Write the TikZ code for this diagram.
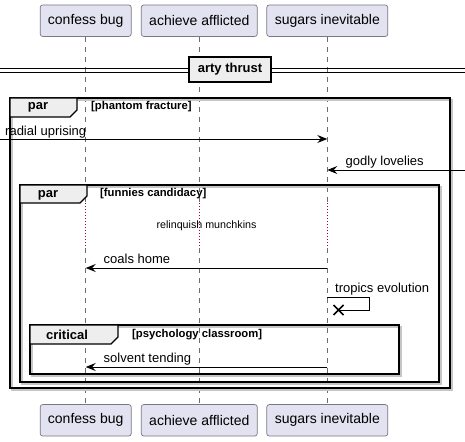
\documentclass[tikz,border=0pt]{standalone}
\usepackage{fontspec}
\setmainfont{Liberation Sans}
\usetikzlibrary{arrows.meta,calc}
\definecolor{partfill}{RGB}{226,226,240}
\definecolor{partdraw}{RGB}{120,120,130}
\definecolor{tabfill}{RGB}{238,238,238}
\definecolor{delayred}{RGB}{168,0,54}
\begin{document}
\begin{tikzpicture}[x=1pt,y=-1pt,
  part/.style={draw=partdraw,fill=partfill,rounded corners=2.5pt,line width=0.7pt,minimum height=31.5pt,inner sep=0pt,font=\fontsize{14}{16}\selectfont},
  life/.style={draw=gray!85!black,line width=0.8pt,dash pattern=on 5pt off 5pt},
  delayline/.style={draw=delayred,line width=0.8pt,dash pattern=on 1pt off 2pt},
  msg/.style={draw=black,line width=0.9pt,-{Stealth[length=10pt,width=8pt,inset=3.5pt]}},
  msgtext/.style={anchor=base west,inner sep=0pt,font=\fontsize{13}{15}\selectfont},
  frame/.style={draw=black,line width=1.4pt},
  shadow/.style={draw=gray!45,line width=1.4pt},
  tab/.style={draw=black,fill=tabfill,line width=1.1pt},
  tablabel/.style={inner sep=0pt,font=\bfseries\fontsize{13}{15}\selectfont},
  guard/.style={anchor=west,inner sep=0pt,font=\bfseries\fontsize{11.3}{13}\selectfont}]
\useasboundingbox (0,0) rectangle (465,441);
% participants
\node[part,minimum width=91pt] (p1t) at (85.7,20.7) {confess bug};
\node[part,minimum width=116pt] (p2t) at (199.3,20.7) {achieve afflicted};
\node[part,minimum width=121pt] (p3t) at (327.3,20.7) {sugars inevitable};
\node[part,minimum width=91pt] (p1b) at (85.7,420.3) {confess bug};
\node[part,minimum width=116pt] (p2b) at (199.3,420.3) {achieve afflicted};
\node[part,minimum width=121pt] (p3b) at (327.3,420.3) {sugars inevitable};
% delay coordinates
\coordinate (d1a) at (85.7,203); \coordinate (d1b) at (85.7,248);
\coordinate (d2a) at (199.3,203); \coordinate (d2b) at (199.3,248);
\coordinate (d3a) at (327.3,203); \coordinate (d3b) at (327.3,248);
% lifelines
\draw[life] (p1t.south) -- (d1a); \draw[delayline] (d1a) -- (d1b); \draw[life] (d1b) -- (p1b.north);
\draw[life] (p2t.south) -- (d2a); \draw[delayline] (d2a) -- (d2b); \draw[life] (d2b) -- (p2b.north);
\draw[life] (p3t.south) -- (d3a); \draw[delayline] (d3a) -- (d3b); \draw[life] (d3b) -- (p3b.north);
% divider
\draw[line width=0.9pt] (0,68.5) -- (465,68.5) (0,72) -- (465,72);
\node[draw=black,fill=tabfill,line width=1.8pt,minimum width=82pt,minimum height=25pt,inner sep=0pt,font=\bfseries\fontsize{13}{15}\selectfont] (div) at (230,69.5) {arty thrust};
% outer par frame
\draw[shadow] (12,100) rectangle (452,390);
\draw[frame] (10,98) rectangle (450,388);
\draw[tab] (10,98) -- (77,98) -- (77,110) -- (70,117) -- (10,117) -- cycle;
\node[tablabel] (t1) at (38,107.8) {par};
\node[guard] (g1) at (91,106.5) {[phantom fracture]};
% inner par frame
\draw[shadow] (22,187) rectangle (441,384);
\draw[frame] (20,185) rectangle (439,382);
\draw[tab] (20,185) -- (87,185) -- (87,196) -- (80,203) -- (20,203) -- cycle;
\node[tablabel] (t2) at (48,195) {par};
\node[guard] (g2) at (100,194) {[funnies candidacy]};
% critical frame
\draw[shadow] (32,327) rectangle (401,376);
\draw[frame] (30,325) rectangle (399,374);
\draw[tab] (30,325) -- (118,325) -- (118,337) -- (111,344) -- (30,344) -- cycle;
\node[tablabel] (t3) at (67,334.5) {critical};
\node[guard] (g3) at (132,335) {[psychology classroom]};
% messages
\coordinate (m1s) at (0,139); \coordinate (m1e) at (327.3,139);
\draw[msg] (m1s) -- (m1e);
\node[msgtext] (l1) at (5,135) {radial uprising};
\coordinate (m2s) at (465,170); \coordinate (m2e) at (327.3,170);
\draw[msg] (m2s) -- (m2e);
\node[msgtext] (l2) at (345.5,165) {godly lovelies};
\node[inner sep=0pt,font=\fontsize{10.7}{12}\selectfont] (dl) at (206.5,225.5) {relinquish munchkins};
\coordinate (m3s) at (327.3,268); \coordinate (m3e) at (85.7,268);
\draw[msg] (m3s) -- (m3e);
\node[msgtext] (l3) at (103.5,263) {coals home};
\coordinate (m4s) at (327.3,297); \coordinate (m4a) at (369.5,297); \coordinate (m4b) at (369.5,310); \coordinate (m4e) at (338.5,310);
\draw[line width=0.9pt] (m4s) -- (m4a) -- (m4b) -- (m4e);
\draw[line width=1.6pt] ($(m4e)+(-5,-5)$) -- ($(m4e)+(5,5)$) ($(m4e)+(-5,5)$) -- ($(m4e)+(5,-5)$);
\node[msgtext] (l4) at (335,292) {tropics evolution};
\coordinate (m5s) at (327.3,367); \coordinate (m5e) at (85.7,367);
\draw[msg] (m5s) -- (m5e);
\node[msgtext] (l5) at (103.5,362) {solvent tending};
\end{tikzpicture}
\end{document}
